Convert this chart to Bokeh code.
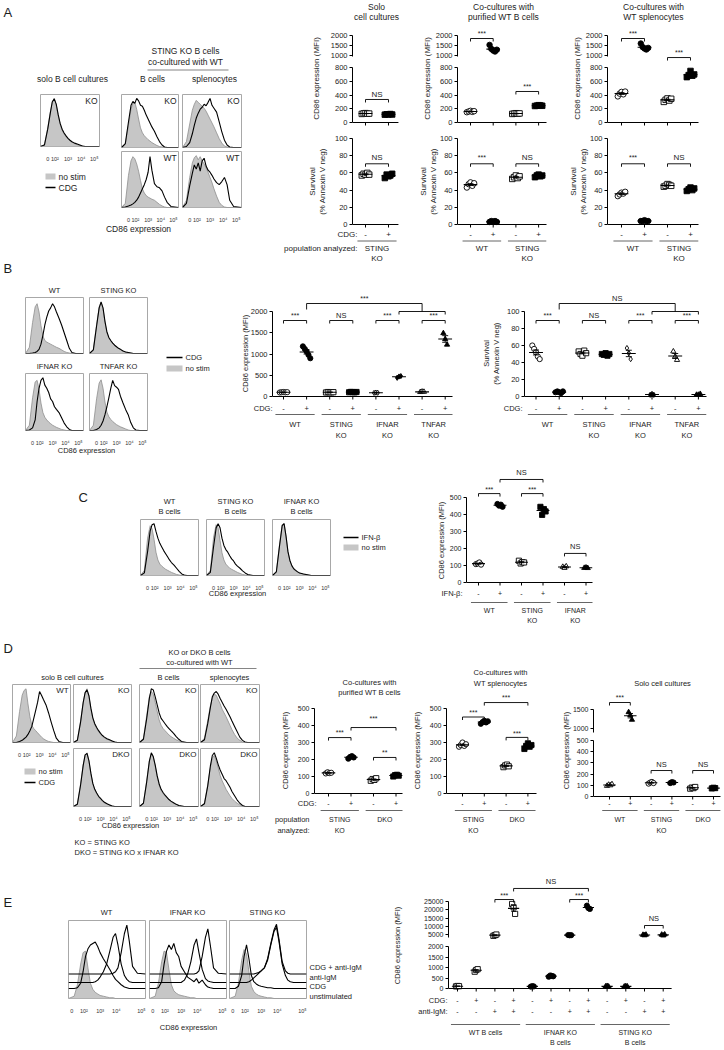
import numpy as np
from bokeh.plotting import figure
from bokeh.models import Column, Range1d, FixedTicker
from bokeh.embed import file_html
from bokeh.resources import INLINE
from bokeh.core.properties import value

# ======================================================================= DATA
# histogram bins (axis units: 10^2 -> 1, 10^3 -> 2, 10^4 -> 3, 10^5 -> 4)
XH = [-0.1, 0.2, 0.45, 0.65, 0.8, 0.95, 1.1, 1.25, 1.4, 1.55, 1.7, 1.85,
      2.0, 2.15, 2.3, 2.5, 2.7, 2.9, 3.1, 3.3, 3.5, 3.8, 4.4]
HIST_TICKS = [0.45, 1, 2, 3, 4]
HIST_TICK_LABELS = ["0", "10²", "10³", "10⁴", "10⁵"]

# panel A histograms
A_SOLO_NOSTIM = [0, 4, 38, 72, 92, 100, 86, 64, 46, 34, 26, 20, 16, 12, 9, 6, 4, 2, 1, 0, 0, 0, 0]
A_SOLO_CDG = [0, 3, 36, 70, 93, 99, 88, 66, 48, 36, 28, 22, 17, 13, 10, 7, 5, 3, 1, 0, 0, 0, 0]
A_COB_KO_NOSTIM = [0, 6, 45, 78, 90, 92, 78, 58, 40, 30, 24, 20, 16, 13, 10, 7, 4, 2, 1, 0, 0, 0, 0]
A_COB_KO_CDG = [0, 8, 52, 86, 94, 90, 100, 95, 86, 84, 76, 66, 58, 50, 42, 33, 22, 12, 5, 1, 0, 0, 0]
A_COSP_KO_NOSTIM = [0, 12, 48, 76, 88, 96, 92, 88, 84, 80, 74, 66, 58, 50, 42, 30, 18, 9, 3, 1, 0, 0, 0]
A_COSP_KO_CDG = [0, 2, 10, 28, 45, 60, 70, 78, 82, 88, 85, 92, 100, 86, 80, 72, 52, 32, 15, 5, 1, 0, 0]
A_COB_WT_NOSTIM = [0, 8, 62, 90, 98, 94, 84, 70, 52, 36, 28, 23, 20, 18, 16, 14, 10, 6, 3, 1, 0, 0, 0]
A_COB_WT_CDG = [0, 1, 3, 5, 7, 10, 14, 20, 28, 36, 44, 54, 68, 98, 72, 46, 40, 38, 32, 20, 10, 2, 0]
A_COSP_WT_NOSTIM = [0, 14, 58, 86, 96, 100, 92, 98, 90, 84, 76, 68, 58, 48, 36, 22, 10, 4, 1, 0, 0, 0, 0]
A_COSP_WT_CDG = [0, 8, 42, 66, 82, 74, 86, 70, 90, 95, 80, 72, 68, 62, 55, 48, 44, 50, 58, 44, 14, 2, 0]

# panel B histograms
B_WT_NOSTIM = [0, 12, 60, 90, 96, 80, 54, 34, 25, 22, 20, 18, 16, 14, 12, 10, 7, 4, 2, 1, 0, 0, 0]
B_WT_CDG = [0, 0, 1, 2, 4, 8, 18, 35, 55, 70, 82, 88, 96, 90, 80, 68, 55, 40, 25, 10, 2, 0, 0]
B_STING_NOSTIM = [0, 8, 56, 90, 100, 86, 60, 40, 30, 24, 20, 16, 13, 10, 8, 5, 3, 2, 1, 0, 0, 0, 0]
B_STING_CDG = [0, 7, 53, 88, 99, 88, 62, 42, 31, 25, 20, 16, 13, 10, 8, 5, 3, 2, 1, 0, 0, 0, 0]
B_IFNAR_NOSTIM = [0, 10, 62, 92, 95, 78, 52, 34, 25, 20, 16, 13, 10, 8, 6, 4, 2, 1, 0, 0, 0, 0, 0]
B_IFNAR_CDG = [0, 1, 5, 20, 55, 80, 95, 100, 86, 80, 72, 60, 55, 45, 40, 34, 24, 14, 7, 2, 0, 0, 0]
B_TNFAR_NOSTIM = [0, 10, 60, 90, 96, 80, 54, 35, 26, 21, 17, 14, 11, 9, 7, 5, 3, 1, 0, 0, 0, 0, 0]
B_TNFAR_CDG = [0, 0, 2, 5, 10, 18, 30, 45, 62, 80, 95, 85, 82, 78, 65, 52, 40, 30, 15, 5, 1, 0, 0]

# panel C histograms
C_WT_NOSTIM = [0, 10, 72, 96, 90, 70, 45, 30, 22, 18, 15, 12, 10, 8, 6, 4, 2, 1, 0, 0, 0, 0, 0]
C_WT_IFN = [0, 5, 46, 86, 98, 100, 85, 72, 62, 55, 48, 42, 36, 30, 25, 20, 14, 8, 3, 1, 0, 0, 0]
C_STING_NOSTIM = [0, 10, 74, 98, 92, 68, 44, 30, 22, 18, 14, 12, 10, 8, 6, 4, 2, 1, 0, 0, 0, 0, 0]
C_STING_IFN = [0, 6, 56, 92, 100, 92, 72, 58, 50, 45, 38, 32, 28, 22, 18, 14, 9, 5, 2, 1, 0, 0, 0]
C_IFNAR_NOSTIM = [0, 8, 60, 98, 100, 75, 45, 28, 18, 12, 9, 7, 5, 4, 3, 2, 1, 0, 0, 0, 0, 0, 0]
C_IFNAR_IFN = [0, 7, 58, 96, 100, 76, 46, 29, 19, 13, 10, 7, 5, 4, 3, 2, 1, 0, 0, 0, 0, 0, 0]

# panel D histograms
D_WT_NOSTIM = [0, 12, 58, 88, 97, 100, 72, 48, 32, 26, 22, 18, 14, 10, 7, 4, 2, 1, 0, 0, 0, 0, 0]
D_WT_CDG = [0, 0, 2, 4, 7, 10, 15, 22, 30, 45, 60, 75, 95, 88, 80, 70, 55, 38, 22, 8, 2, 0, 0]
D_KO_NOSTIM = [0, 5, 40, 75, 92, 100, 85, 62, 44, 33, 26, 20, 16, 12, 9, 6, 4, 2, 1, 0, 0, 0, 0]
D_KO_CDG = [0, 4, 38, 74, 93, 98, 87, 64, 46, 35, 28, 22, 17, 13, 10, 7, 5, 3, 1, 0, 0, 0, 0]
D_DKO_NOSTIM = [0, 5, 42, 78, 95, 100, 84, 60, 42, 31, 24, 18, 14, 10, 7, 5, 3, 1, 0, 0, 0, 0, 0]
D_DKO_CDG = [0, 4, 40, 76, 96, 99, 85, 62, 43, 32, 25, 19, 15, 11, 8, 5, 3, 1, 0, 0, 0, 0, 0]
D_COB_KO_NOSTIM = [0, 8, 50, 85, 95, 90, 75, 58, 42, 32, 26, 22, 18, 14, 11, 8, 5, 3, 1, 0, 0, 0, 0]
D_COB_KO_CDG = [0, 6, 45, 82, 100, 98, 85, 70, 55, 45, 40, 35, 30, 26, 22, 17, 11, 6, 2, 1, 0, 0, 0]
D_COSP_KO_NOSTIM = [0, 8, 40, 68, 82, 90, 88, 80, 72, 62, 55, 48, 40, 32, 24, 15, 8, 4, 1, 0, 0, 0, 0]
D_COSP_KO_CDG = [0, 5, 35, 65, 85, 92, 95, 90, 82, 75, 68, 62, 55, 48, 40, 30, 20, 10, 4, 1, 0, 0, 0]
D_COB_DKO_NOSTIM = [0, 7, 48, 85, 97, 92, 75, 55, 40, 30, 24, 20, 16, 12, 9, 6, 4, 2, 1, 0, 0, 0, 0]
D_COB_DKO_CDG = [0, 6, 46, 84, 100, 93, 77, 57, 42, 32, 26, 21, 17, 13, 10, 7, 4, 2, 1, 0, 0, 0, 0]
D_COSP_DKO_NOSTIM = [0, 6, 40, 72, 90, 95, 85, 72, 58, 48, 40, 32, 26, 20, 15, 10, 6, 3, 1, 0, 0, 0, 0]
D_COSP_DKO_CDG = [0, 5, 38, 75, 95, 100, 90, 78, 68, 60, 52, 48, 42, 36, 28, 20, 12, 6, 2, 0, 0, 0, 0]

# panel E histograms (offset overlays)
XE = [0.05, 0.4, 0.6, 0.8, 0.95, 1.1, 1.25, 1.4, 1.55, 1.7, 1.85, 2.0, 2.2,
      2.4, 2.6, 2.8, 2.95, 3.1, 3.3, 3.5, 3.65, 3.8, 4.0, 4.3, 4.8]
E_HIST_TICKS = [0.25, 1, 2, 3, 4.55]
HE_WT_UNSTIM = [0, 3, 18, 45, 60, 62, 40, 20, 12, 8, 6, 4, 3, 2, 1, 1, 0, 0, 0, 0, 0, 0, 0, 0, 0]
HE_WT_CDG = [13, 13, 14, 20, 35, 55, 65, 70, 72, 74, 68, 60, 52, 45, 38, 30, 25, 22, 18, 15, 14, 13, 13, 13, 13]
HE_WT_IGM = [21, 21, 21, 21, 21, 21, 21, 21, 21, 22, 24, 28, 35, 45, 62, 80, 85, 70, 45, 30, 25, 22, 21, 21, 21]
HE_WT_BOTH = [32, 32, 32, 32, 32, 32, 32, 32, 32, 32, 32, 32, 32, 32, 32, 33, 35, 40, 60, 85, 96, 75, 42, 33, 32]
HE_IFNAR_UNSTIM = [0, 3, 20, 48, 62, 60, 38, 18, 10, 7, 5, 4, 3, 2, 1, 1, 0, 0, 0, 0, 0, 0, 0, 0, 0]
HE_IFNAR_CDG = [13, 13, 14, 22, 45, 62, 70, 64, 72, 60, 55, 42, 35, 28, 25, 22, 26, 20, 24, 18, 15, 14, 13, 13, 13]
HE_IFNAR_IGM = [21, 21, 21, 21, 21, 21, 21, 21, 21, 21, 21, 21, 24, 32, 48, 70, 78, 60, 38, 26, 23, 22, 21, 21, 21]
HE_IFNAR_BOTH = [32, 32, 32, 32, 32, 32, 32, 32, 32, 32, 32, 32, 32, 32, 32, 32, 33, 36, 55, 80, 91, 70, 40, 33, 32]
HE_STING_UNSTIM = [0, 3, 20, 50, 64, 58, 35, 16, 9, 6, 4, 3, 2, 1, 1, 0, 0, 0, 0, 0, 0, 0, 0, 0, 0]
HE_STING_CDG = [13, 13, 16, 30, 55, 70, 52, 30, 22, 19, 17, 16, 15, 14, 14, 13, 13, 13, 13, 13, 13, 13, 13, 13, 13]
HE_STING_IGM = [21, 21, 21, 21, 21, 21, 22, 24, 27, 30, 33, 36, 40, 50, 70, 88, 93, 75, 45, 30, 24, 22, 21, 21, 21]
HE_STING_BOTH = [32, 32, 32, 32, 32, 32, 32, 32, 32, 33, 34, 36, 40, 52, 72, 90, 97, 78, 48, 36, 33, 32, 32, 32, 32]

# panel A dot plots
A1_CD86_KO_NEG = [125, 132, 136, 128, 130]
A1_CD86_KO_POS = [114, 120, 118, 123, 116]
A1_SURV_KO_NEG = [57, 59, 58, 60, 58]
A1_SURV_KO_POS = [54, 58, 56, 57, 59]
A2_CD86_WT_NEG = [150, 160, 170, 155, 165]
A2_CD86_WT_POS = [1530, 1330, 1250, 1200, 1290]
A2_CD86_KO_NEG = [125, 130, 135, 128, 132]
A2_CD86_KO_POS = [240, 245, 252, 248, 243]
A2_SURV_WT_NEG = [43, 47, 49, 45, 48]
A2_SURV_WT_POS = [3, 4, 3, 4, 3]
A2_SURV_KO_NEG = [53, 55, 57, 54, 56]
A2_SURV_KO_POS = [55, 57, 58, 56, 57]
A3_CD86_WT_NEG = [380, 420, 445, 410, 450]
A3_CD86_WT_POS = [1600, 1420, 1350, 1300, 1380]
A3_CD86_KO_NEG = [300, 330, 350, 320, 345]
A3_CD86_KO_POS = [660, 690, 750, 680, 700]
A3_SURV_WT_NEG = [33, 35, 37, 36, 38]
A3_SURV_WT_POS = [4, 4, 5, 4, 4]
A3_SURV_KO_NEG = [44, 45, 47, 46, 45]
A3_SURV_KO_POS = [39, 41, 43, 40, 42]

# panel B dot plots
B1_WT_NEG = [95, 100, 105, 98, 102]
B1_WT_POS = [1180, 1120, 1060, 980, 900]
B1_STING_NEG = [95, 105, 100, 98, 102]
B1_STING_POS = [100, 108, 104, 98, 106]
B1_IFNAR_NEG = [85, 92, 88]
B1_IFNAR_POS = [440, 470, 480]
B1_TNFAR_NEG = [105, 115, 110]
B1_TNFAR_POS = [1490, 1350, 1220]
B2_WT_NEG = [60, 56, 52, 47, 44]
B2_WT_POS = [5, 6, 5, 4, 6]
B2_STING_NEG = [53, 50, 48, 54, 51]
B2_STING_POS = [50, 49, 51, 48, 50]
B2_IFNAR_NEG = [57, 51, 44]
B2_IFNAR_POS = [2, 3, 2]
B2_TNFAR_NEG = [53, 47, 43]
B2_TNFAR_POS = [2, 2, 3]

# panel C dot plot
C_WT_NEG = [108, 112, 118, 105]
C_WT_POS = [462, 452, 458, 445]
C_STING_NEG = [128, 112, 120, 118]
C_STING_POS = [445, 398, 432, 418]
C_IFNAR_NEG = [92, 86, 95]
C_IFNAR_POS = [86, 88, 85]

# panel D dot plots
D1_STING_NEG = [118, 125, 120, 122]
D1_STING_POS = [205, 215, 220, 212]
D1_DKO_NEG = [75, 85, 80, 90]
D1_DKO_POS = [100, 108, 110, 105]
D2_STING_NEG = [275, 285, 300, 280, 290]
D2_STING_POS = [410, 420, 428, 418, 425]
D2_DKO_NEG = [155, 165, 170, 160]
D2_DKO_POS = [262, 280, 295, 275, 285]
D3_WT_NEG = [95, 105, 100, 110]
D3_WT_POS = [1430, 1350, 1230]
D3_STING_NEG = [115, 125, 130, 120]
D3_STING_POS = [120, 128, 125]
D3_DKO_NEG = [70, 80, 75, 85]
D3_DKO_POS = [72, 78, 75]

# panel E dot plot (unstim, CDG, anti-IgM, CDG + anti-IgM)
E_WT_UNST = [100, 120, 110]
E_WT_CDG = [800, 880, 920]
E_WT_IGM = [4200, 4600, 5000]
E_WT_BOTH = [23500, 21500, 17500]
E_IFNAR_UNST = [90, 110, 100]
E_IFNAR_CDG = [560, 620, 600, 580]
E_IFNAR_IGM = [4700, 4500, 4600]
E_IFNAR_BOTH = [22500, 21000, 20500]
E_STING_UNST = [100, 120, 90]
E_STING_CDG = [90, 110, 100]
E_STING_IGM = [4800, 4500, 4900]
E_STING_BOTH = [4900, 4400, 5000]

SIGNS4 = ["-", "+", "-", "+"]
SIGNS6 = ["-", "+", "-", "+", "-", "+"]
SIGNS8 = ["-", "+", "-", "+", "-", "+", "-", "+"]
E_CDG_SIGNS = ["-", "+", "-", "+"] * 3
E_IGM_SIGNS = ["-", "-", "+", "+"] * 3

# ===================================================================== STYLE
FONT = "Liberation Sans"
INK = "#1c1c1c"
GRAYFILL = "#c6c6c6"
GRAYLINE = "#8e8e8e"
BOXLINE = "#a8a8a8"
LB, RB, TB, BB = 40, 2, 2, 2          # uniform borders for every figure
children = []


def place(p, left, top):
    # positions are page pixels (absolute, relative to the window)
    p.styles = {"position": "absolute", "left": f"{left}px", "top": f"{top}px"}
    children.append(p)


def base_fig(**kw):
    p = figure(output_backend="svg", toolbar_location=None,
               min_border_left=LB, min_border_right=RB, min_border_top=TB, min_border_bottom=BB, **kw)
    try:
        p.frame_align = False
    except Exception:
        pass
    p.grid.visible = False
    p.outline_line_color = None
    p.background_fill_alpha = 0
    p.border_fill_alpha = 0
    return p


# ------------------------------------------------ page-level texts (collected)
BG_ITEMS = []
ROT = np.pi / 2


def T(x, y, s, size=8.0, align="center", angle=0.0):
    if angle:
        w = size * 1.3
        xe = (x - w / 2, x + w / 2)
        hl = len(s) * size * 0.3
        ye = (y - hl, y + hl)
    else:
        w = len(s) * size * 0.56
        xe = {"left": (x, x + w), "center": (x - w / 2, x + w / 2), "right": (x - w, x)}[align]
        ye = (y - size * 0.6, y + size * 0.6)
    BG_ITEMS.append(("text", xe, ye, dict(x=x, y=y, s=s, size=size, align=align, angle=angle)))


def L(x0, y0, x1, y1, color=INK, width=1.0):
    BG_ITEMS.append(("seg", (min(x0, x1), max(x0, x1)), (min(y0, y1) - 1, max(y0, y1) + 1),
                     dict(x0=x0, y0=y0, x1=x1, y1=y1, color=color, width=width)))


def R(x0, y0, x1, y1, color=GRAYFILL):
    BG_ITEMS.append(("quad", (x0, x1), (y0, y1), dict(x0=x0, y0=y0, x1=x1, y1=y1, color=color)))


def build_background():
    bands = [(0, 266), (254, 462), (444, 636), (624, 872), (858, 1046)]
    cols = [(0, 380), (200, 560), (360, 720)]
    tiles = [[(x0, x1, y0, y1), []] for (y0, y1) in bands for (x0, x1) in cols]
    for kind, xe, ye, d in BG_ITEMS:
        chosen = None
        for t in tiles:
            x0, x1, y0, y1 = t[0]
            if xe[0] >= x0 and xe[1] <= x1 and ye[0] >= y0 and ye[1] <= y1:
                chosen = t
                break
        if chosen is None:
            def overlap(t):
                x0, x1, y0, y1 = t[0]
                return (max(0, min(x1, xe[1]) - max(x0, xe[0])) *
                        max(0, min(y1, ye[1]) - max(y0, ye[0])))
            chosen = max(tiles, key=overlap)
        chosen[1].append((kind, d))
    out = []
    for (x0, x1, y0, y1), items in tiles:
        if not items:
            continue
        p = base_fig(frame_width=x1 - x0, frame_height=y1 - y0, x_range=Range1d(x0, x1),
                     y_range=Range1d(-y1, -y0), x_axis_location=None, y_axis_location=None)
        for kind, d in items:
            if kind == "text":
                p.text(x=[d["x"]], y=[-d["y"]], text=[d["s"]], text_font=value(FONT),
                       text_font_size=f"{d['size']}px", text_align=d["align"],
                       text_baseline="middle", angle=d["angle"], text_color=INK)
            elif kind == "seg":
                p.segment(x0=[d["x0"]], y0=[-d["y0"]], x1=[d["x1"]], y1=[-d["y1"]],
                          line_color=d["color"], line_width=d["width"])
            else:
                p.quad(left=[d["x0"]], right=[d["x1"]], top=[-d["y0"]], bottom=[-d["y1"]],
                       fill_color=d["color"], line_color=None)
        p.styles = {"position": "absolute", "left": f"{x0 - LB}px", "top": f"{y0 - TB}px"}
        out.append(p)
    return out


# --------------------------------------------------------------- histogram
def hist(left, top, w, h, gray, blacks, label=None, ticks=False, xs=XH, xr=(-0.1, 4.4),
         tpos=HIST_TICKS, ymax=108.0, lsize=8.5):
    kw = dict(frame_width=w, frame_height=h, x_range=Range1d(*xr), y_range=Range1d(0, ymax),
              y_axis_location=None)
    if not ticks:
        kw["x_axis_location"] = None
    p = base_fig(**kw)
    p.outline_line_color = BOXLINE
    p.outline_line_width = 1
    p.varea(x=xs, y1=0, y2=gray, fill_color=GRAYFILL)
    p.line(xs, gray, line_color=GRAYLINE, line_width=0.8)
    for b in blacks:
        p.line(xs, b, line_color="black", line_width=1.1)
    if label:
        p.text(x=[xr[1] - 0.15], y=[ymax * 0.97], text=[label], text_align="right",
               text_baseline="top", text_font=value(FONT), text_font_size=f"{lsize}px",
               text_color=INK)
    if ticks:
        ax = p.xaxis[0]
        ax.ticker = FixedTicker(ticks=tpos)
        ax.major_label_overrides = {t: l for t, l in zip(tpos, HIST_TICK_LABELS)}
        ax.axis_line_color = None
        ax.major_tick_line_color = None
        ax.minor_tick_line_color = None
        ax.major_label_text_font = FONT
        ax.major_label_text_font_size = "5.5px"
        ax.major_label_text_color = "#333333"
        ax.major_label_standoff = 3
    place(p, left - LB, top - TB)
    return p


# ----------------------------------------------------------------- dot plots
def scat(ax_x, right, top, bottom, v_a, py_a, v_b, py_b, c1, d, yticks, ybounds, tick_size="7.5px"):
    s = (py_a - py_b) / float(v_b - v_a)

    def val(py):
        return v_a + (py_a - py) / s

    def xv(px):
        return 1 + (px - c1) / float(d)

    p = base_fig(frame_width=int(round(right - ax_x)), frame_height=int(round(bottom - top)),
                 x_range=Range1d(xv(ax_x), xv(right)), y_range=Range1d(val(bottom), val(top)),
                 x_axis_location=None)
    ya = p.yaxis[0]
    ya.ticker = FixedTicker(ticks=yticks)
    ya.bounds = ybounds
    ya.major_tick_out = 3
    ya.major_tick_in = 0
    ya.minor_tick_line_color = None
    ya.axis_line_color = "black"
    ya.major_tick_line_color = "black"
    ya.major_label_text_font = FONT
    ya.major_label_text_font_size = tick_size
    ya.major_label_text_color = INK
    ya.major_label_standoff = 2
    place(p, ax_x - LB, top - TB)
    return p, s, val


def series(p, xi, vals, marker, filled, size=5.5):
    lo, hi = p.y_range.start, p.y_range.end
    n = len(vals)
    xs = [xi + (k - (n - 1) / 2.0) * 0.08 for k in range(n)]
    pts = [(x, y) for x, y in zip(xs, vals) if lo <= y <= hi]
    if pts:
        p.scatter(x=[q[0] for q in pts], y=[q[1] for q in pts], marker=marker, size=size,
                  fill_color="black" if filled else "white", line_color="black", line_width=0.9)
    m = float(np.mean(vals))
    se = float(np.std(vals, ddof=1) / np.sqrt(n))
    if lo <= m <= hi:
        p.segment(x0=[xi - 0.3], y0=[m], x1=[xi + 0.3], y1=[m], line_color="black", line_width=1.1)
        p.segment(x0=[xi, xi - 0.13, xi - 0.13], y0=[m - se, m - se, m + se],
                  x1=[xi, xi + 0.13, xi + 0.13], y1=[m + se, m - se, m + se],
                  line_color="black", line_width=0.9)


def ptext(p, xs, ys, texts, size="7.5px"):
    p.text(x=xs, y=ys, text=texts, text_align="center", text_baseline="middle",
           text_font=value(FONT), text_font_size=size, text_color=INK)


def bracket(p, s, x0, x1, yv, label, lyv, size="7px", tick_px=3.0):
    t = tick_px / s
    p.multi_line(xs=[[x0, x0, x1, x1]], ys=[[yv - t, yv, yv, yv - t]],
                 line_color="black", line_width=0.9)
    if label:
        ptext(p, [(x0 + x1) / 2.0], [lyv], [label], size)


def under(p, s, val, n, rows, groups, ul_py=None, g_py=(), size="7.5px"):
    p.segment(x0=[p.x_range.start], y0=[0], x1=[n + 0.45], y1=[0], line_color="black", line_width=1)
    idx = list(range(1, n + 1))
    p.segment(x0=idx, y0=[0] * n, x1=idx, y1=[-3.0 / s] * n, line_color="black", line_width=1)
    for py, signs in rows:
        ptext(p, idx, [val(py)] * n, signs, size)
    for a, b, lines in groups:
        p.segment(x0=[a - 0.35], y0=[val(ul_py)], x1=[b + 0.35], y1=[val(ul_py)],
                  line_color="#555555", line_width=0.9)
        for k, ln in enumerate(lines):
            ptext(p, [(a + b) / 2.0], [val(g_py[k])], [ln], size)


# ============================================================= PANEL A
T(3, 12, "A", 13, "left")
T(185, 50.5, "STING KO B cells", 8.5)
T(185, 61.5, "co-cultured with WT", 8.5)
L(147, 69.5, 228, 69.5, "#777777", 0.9)
T(72, 78, "solo B cell cultures", 8.5)
T(152, 78, "B cells", 8.5)
T(214, 78, "splenocytes", 8.5)
R(45, 173, 55, 179)
T(58, 176, "no stim", 8.5, "left")
L(45, 187, 55, 187, "black", 1.6)
T(58, 187, "CDG", 8.5, "left")
T(138, 228, "CD86 expression", 8.5)

hist(40, 94, 59, 52, A_SOLO_NOSTIM, [A_SOLO_CDG], "KO", ticks=True)
hist(121, 94, 57, 53, A_COB_KO_NOSTIM, [A_COB_KO_CDG], "KO")
hist(182, 94, 59, 53, A_COSP_KO_NOSTIM, [A_COSP_KO_CDG], "KO")
hist(121, 151, 57, 56, A_COB_WT_NOSTIM, [A_COB_WT_CDG], "WT", ticks=True)
hist(182, 151, 59, 56, A_COSP_WT_NOSTIM, [A_COSP_WT_CDG], "WT", ticks=True)

for tx, l1, l2 in [(376, "Solo", "cell cultures"), (503, "Co-cultures with", "purified WT B cells"),
                   (653, "Co-cultures with", "WT splenocytes")]:
    T(tx, 6.5, l1, 8.5)
    T(tx, 16.5, l2, 8.5)
for lx in (316, 427, 577):
    T(lx, 78, "CD86 expression (MFI)", 8, "center", ROT)
    T(lx - 4, 181, "Survival", 8, "center", ROT)
    T(lx + 6, 181, "(% Annexin V neg)", 8, "center", ROT)
T(357, 234, "CDG:", 8, "right")
T(357, 248, "population analyzed:", 8, "right")

A_COLS = [
    (352, 398, 365, 23.0,
     [(1, A1_CD86_KO_NEG, "square", False), (2, A1_CD86_KO_POS, "square", True)],
     [(1, A1_SURV_KO_NEG, "square", False), (2, A1_SURV_KO_POS, "square", True)],
     [], [(1, 2, 335, "NS", 407)], [(1, 2, 70.6, "NS", 77.6)], [(1, 2, ["STING", "KO"])]),
    (457, 546, 470, 22.7,
     [(1, A2_CD86_WT_NEG, "circle", False), (2, A2_CD86_WT_POS, "circle", True),
      (3, A2_CD86_KO_NEG, "square", False), (4, A2_CD86_KO_POS, "square", True)],
     [(1, A2_SURV_WT_NEG, "circle", False), (2, A2_SURV_WT_POS, "circle", True),
      (3, A2_SURV_KO_NEG, "square", False), (4, A2_SURV_KO_POS, "square", True)],
     [(1, 2, 1850, "***", 2100)], [(3, 4, 451, "***", 524)],
     [(1, 2, 70.6, "***", 77.6), (3, 4, 70.6, "NS", 77.6)],
     [(1, 2, ["WT"]), (3, 4, ["STING", "KO"])]),
    (607, 698, 621, 23.0,
     [(1, A3_CD86_WT_NEG, "circle", False), (2, A3_CD86_WT_POS, "circle", True),
      (3, A3_CD86_KO_NEG, "square", False), (4, A3_CD86_KO_POS, "square", True)],
     [(1, A3_SURV_WT_NEG, "circle", False), (2, A3_SURV_WT_POS, "circle", True),
      (3, A3_SURV_KO_NEG, "square", False), (4, A3_SURV_KO_POS, "square", True)],
     [(1, 2, 1850, "***", 2100)], [(3, 4, 945, "***", 1018)],
     [(1, 2, 70.6, "***", 77.6), (3, 4, 70.6, "NS", 77.6)],
     [(1, 2, ["WT"]), (3, 4, ["STING", "KO"])]),
]
for ax_x, right, c1, d, cd86, surv, br_up, br_lo, br_sv, groups in A_COLS:
    n = len(cd86)
    pu, su, vu = scat(ax_x, right, 26, 58, 2000, 35, 1000, 55, c1, d, [1000, 1500, 2000], (950, 2000))
    pl, sl, vl = scat(ax_x, right, 46, 128, 800, 67, 0, 122, c1, d, [0, 200, 400, 600, 800], (0, 800))
    for pp in (pu, pl):
        for xi, vals, mk, fl in cd86:
            series(pp, xi, vals, mk, fl)
    under(pl, sl, vl, n, [], [])
    for a, b, yv, lab, ly in br_up:
        bracket(pu, su, a, b, yv, lab, ly)
    for a, b, yv, lab, ly in br_lo:
        bracket(pl, sl, a, b, yv, lab, ly, "8px" if lab == "NS" else "7px")
    ps, ss, vs = scat(ax_x, right, 132, 262, 100, 138, 0, 224, c1, d, [0, 20, 40, 60, 80, 100], (0, 100))
    for xi, vals, mk, fl in surv:
        series(ps, xi, vals, mk, fl)
    under(ps, ss, vs, n, [(234, SIGNS4[:n])], groups, 240.5, (248, 258), "8px")
    for a, b, yv, lab, ly in br_sv:
        bracket(ps, ss, a, b, yv, lab, ly, "8px" if lab == "NS" else "7px")

# ============================================================= PANEL B
T(3, 268, "B", 13, "left")
T(54, 290, "WT", 7.5)
T(118, 290, "STING KO", 7.5)
T(54, 366, "IFNAR KO", 7.5)
T(118, 366, "TNFAR KO", 7.5)
L(166, 357, 182, 357, "black", 1.6)
T(185, 357, "CDG", 7.5, "left")
R(166, 365, 182, 371)
T(185, 368, "no stim", 7.5, "left")
T(86, 450, "CD86 expression", 7.5)

hist(25, 297, 58, 56, B_WT_NOSTIM, [B_WT_CDG])
hist(89, 297, 58, 56, B_STING_NOSTIM, [B_STING_CDG])
hist(25, 373, 58, 57, B_IFNAR_NOSTIM, [B_IFNAR_CDG], ticks=True)
hist(89, 373, 58, 57, B_TNFAR_NOSTIM, [B_TNFAR_CDG], ticks=True)

T(245, 353, "CD86 expression (MFI)", 7.5, "center", ROT)
T(272, 408, "CDG:", 7.5, "right")
T(486, 353, "Survival", 7.5, "center", ROT)
T(496, 353, "(% Annexin V neg)", 7.5, "center", ROT)
T(522, 408, "CDG:", 7.5, "right")

B_GROUPS = [(1, 2, ["WT"]), (3, 4, ["STING", "KO"]), (5, 6, ["IFNAR", "KO"]), (7, 8, ["TNFAR", "KO"])]
B_PANELS = [
    (272, 452, 283, 23.1, 2000, [0, 500, 1000, 1500, 2000],
     [(1, B1_WT_NEG, "circle", False), (2, B1_WT_POS, "circle", True),
      (3, B1_STING_NEG, "square", False), (4, B1_STING_POS, "square", True),
      (5, B1_IFNAR_NEG, "diamond", False), (6, B1_IFNAR_POS, "diamond", True),
      (7, B1_TNFAR_NEG, "triangle", False), (8, B1_TNFAR_POS, "triangle", True)],
     ["***", "NS", "***", "***"], "***"),
    (524, 706, 535.5, 23.2, 100, [0, 20, 40, 60, 80, 100],
     [(1, B2_WT_NEG, "circle", False), (2, B2_WT_POS, "circle", True),
      (3, B2_STING_NEG, "square", False), (4, B2_STING_POS, "square", True),
      (5, B2_IFNAR_NEG, "diamond", False), (6, B2_IFNAR_POS, "diamond", True),
      (7, B2_TNFAR_NEG, "triangle", False), (8, B2_TNFAR_POS, "triangle", True)],
     ["***", "NS", "***", "***"], "NS"),
]
for ax_x, right, c1, d, vmax, ticks, ser, pair_labels, top_label in B_PANELS:
    p, s, v = scat(ax_x, right, 290, 440, vmax, 311, 0, 396, c1, d, ticks, (0, vmax))
    for xi, vals, mk, fl in ser:
        series(p, xi, vals, mk, fl, 5.2)
    under(p, s, v, 8, [(408, SIGNS8)], B_GROUPS, 414, (424, 435))
    for k, lab in enumerate(pair_labels):
        bracket(p, s, 2 * k + 1, 2 * k + 2, v(320), lab, v(315),
                "7.5px" if lab == "NS" else "7px")
    bracket(p, s, 6, 8, v(311), None, None)
    p.multi_line(xs=[[2, 2, 7, 7]], ys=[[v(309), v(303), v(303), v(311)]],
                 line_color="black", line_width=0.9)
    ptext(p, [4.5], [v(297.5)], [top_label], "7.5px" if top_label == "NS" else "7px")

# ============================================================= PANEL C
T(78, 497, "C", 13, "left")
for cx, name in [(169, "WT"), (235, "STING KO"), (301, "IFNAR KO")]:
    T(cx, 501, name, 7.5)
    T(cx, 511, "B cells", 7.5)
L(343, 537, 358, 537, "black", 1.6)
T(361, 537, "IFN-β", 7.5, "left")
R(343, 544, 358, 550)
T(361, 547, "no stim", 7.5, "left")
T(237, 593, "CD86 expression", 7.5)

hist(140, 519, 58, 56, C_WT_NOSTIM, [C_WT_IFN], ticks=True)
hist(206, 519, 58, 56, C_STING_NOSTIM, [C_STING_IFN], ticks=True)
hist(272, 519, 58, 56, C_IFNAR_NOSTIM, [C_IFNAR_IFN], ticks=True)

T(441, 540, "CD86 expression (MFI)", 7.5, "center", ROT)
T(462, 593, "IFN-β:", 7.5, "right")
pc, sc, vc = scat(466, 592, 465, 625, 500, 497, 0, 582, 478, 21.5, [0, 100, 200, 300, 400, 500],
                  (0, 500), "7px")
for xi, vals, mk, fl in [(1, C_WT_NEG, "circle", False), (2, C_WT_POS, "circle", True),
                         (3, C_STING_NEG, "square", False), (4, C_STING_POS, "square", True),
                         (5, C_IFNAR_NEG, "triangle", False), (6, C_IFNAR_POS, "triangle", True)]:
    series(pc, xi, vals, mk, fl, 5.2)
under(pc, sc, vc, 6, [(593, SIGNS6)],
      [(1, 2, ["WT"]), (3, 4, ["STING", "KO"]), (5, 6, ["IFNAR", "KO"])], 602, (610, 620), "7px")
bracket(pc, sc, 1, 2, 523, "***", 547)
bracket(pc, sc, 3, 4, 523, "***", 547)
bracket(pc, sc, 5, 6, 171, "NS", 212, "7.5px")
bracket(pc, sc, 2, 4, 606, "NS", 647, "7.5px")

# ============================================================= PANEL D
T(3, 648, "D", 13, "left")
T(199, 652, "KO or DKO B cells", 7.5)
T(199, 662, "co-cultured with WT", 7.5)
L(139, 668, 256, 668, "#777777", 0.9)
T(72, 677, "solo B cell cultures", 7.5)
T(168, 677, "B cells", 7.5)
T(229, 677, "splenocytes", 7.5)
R(24, 768, 35, 774)
T(38, 771, "no stim", 7.5, "left")
L(24, 782, 35, 782, "black", 1.6)
T(38, 782, "CDG", 7.5, "left")
T(130, 825, "CD86 expression", 7.5)
T(74, 842, "KO = STING KO", 7.5, "left")
T(74, 852, "DKO = STING KO x IFNAR KO", 7.5, "left")

hist(12, 684, 58, 58, D_WT_NOSTIM, [D_WT_CDG], "WT", ticks=True, lsize=8)
hist(73, 684, 58, 58, D_KO_NOSTIM, [D_KO_CDG], "KO", lsize=8)
hist(73, 748, 58, 58, D_DKO_NOSTIM, [D_DKO_CDG], "DKO", ticks=True, lsize=8)
hist(139, 684, 59, 58, D_COB_KO_NOSTIM, [D_COB_KO_CDG], "KO", lsize=8)
hist(200, 684, 59, 58, D_COSP_KO_NOSTIM, [D_COSP_KO_CDG], "KO", lsize=8)
hist(139, 748, 59, 58, D_COB_DKO_NOSTIM, [D_COB_DKO_CDG], "DKO", ticks=True, lsize=8)
hist(200, 748, 59, 58, D_COSP_DKO_NOSTIM, [D_COSP_DKO_CDG], "DKO", ticks=True, lsize=8)

T(369, 682, "Co-cultures with", 7.5)
T(369, 692, "purified WT B cells", 7.5)
T(500, 672, "Co-cultures with", 7.5)
T(500, 683, "WT splenocytes", 7.5)
T(662, 683, "Solo cell cultures", 7.5)
T(285, 750, "CD86 expression (MFI)", 7.5, "center", ROT)
T(417, 750, "CD86 expression (MFI)", 7.5, "center", ROT)
T(566, 750, "CD86 expression (MFI)", 7.5, "center", ROT)
T(316, 803, "CDG:", 7.5, "right")
T(309, 819, "population", 7.5, "right")
T(309, 830, "analyzed:", 7.5, "right")

D_TICKS = [0, 100, 200, 300, 400, 500]
D_PANELS = [
    (314, 402, 695, 328, 22.5,
     [(1, D1_STING_NEG, "circle", False), (2, D1_STING_POS, "circle", True),
      (3, D1_DKO_NEG, "square", False), (4, D1_DKO_POS, "square", True)],
     [(1, 2, 329, "***", 359), (3, 4, 212, "**", 241), (2, 4, 388, "***", 441)]),
    (446, 536, 690, 462, 21.8,
     [(1, D2_STING_NEG, "circle", False), (2, D2_STING_POS, "circle", True),
      (3, D2_DKO_NEG, "square", False), (4, D2_DKO_POS, "square", True)],
     [(1, 2, 450, "***", 478), (3, 4, 330, "***", 355), (2, 4, 535, "***", 565)]),
]
for ax_x, right, top, c1, d, ser, brs in D_PANELS:
    p, s, v = scat(ax_x, right, top, 836, 500, 708, 0, 793, c1, d, D_TICKS, (0, 500), "7px")
    for xi, vals, mk, fl in ser:
        series(p, xi, vals, mk, fl, 5.2)
    under(p, s, v, 4, [(803, SIGNS4)], [(1, 2, ["STING", "KO"]), (3, 4, ["DKO"])],
          810, (819, 830), "7px")
    for a, b, yv, lab, ly in brs:
        bracket(p, s, a, b, yv, lab, ly)

pdu, sdu, vdu = scat(593, 720, 690, 734, 1500, 709, 1000, 728, 609, 20.8, [1000, 1500], (900, 1500), "7px")
pdl, sdl, vdl = scat(593, 720, 732, 836, 500, 740, 0, 796, 609, 20.8, D_TICKS, (0, 500), "7px")
for pp in (pdu, pdl):
    for xi, vals, mk, fl in [(1, D3_WT_NEG, "triangle", False), (2, D3_WT_POS, "triangle", True),
                             (3, D3_STING_NEG, "circle", False), (4, D3_STING_POS, "circle", True),
                             (5, D3_DKO_NEG, "square", False), (6, D3_DKO_POS, "square", True)]:
        series(pp, xi, vals, mk, fl, 5.2)
under(pdl, sdl, vdl, 6, [(803, SIGNS6)],
      [(1, 2, ["WT"]), (3, 4, ["STING", "KO"]), (5, 6, ["DKO"])], 810, (819, 830), "7px")
bracket(pdu, sdu, 1, 2, 1684, "***", 1815)
bracket(pdl, sdl, 3, 4, 232, "NS", 286, "7.5px")
bracket(pdl, sdl, 5, 6, 232, "NS", 286, "7.5px")

# ============================================================= PANEL E
T(3, 902, "E", 13, "left")
T(106, 912, "WT", 7.5)
T(187, 912, "IFNAR KO", 7.5)
T(267, 912, "STING KO", 7.5)
T(309, 967, "CDG + anti-IgM", 7.5, "left")
T(309, 977, "anti-IgM", 7.5, "left")
T(309, 986, "CDG", 7.5, "left")
T(309, 996, "unstimulated", 7.5, "left")
T(188, 1027, "CD86 expression", 7.5)

hist(68, 920, 77, 78, HE_WT_UNSTIM, [HE_WT_CDG, HE_WT_IGM, HE_WT_BOTH], ticks=True,
     xs=XE, xr=(0.05, 4.8), tpos=E_HIST_TICKS, ymax=102)
hist(149, 920, 77, 78, HE_IFNAR_UNSTIM, [HE_IFNAR_CDG, HE_IFNAR_IGM, HE_IFNAR_BOTH], ticks=True,
     xs=XE, xr=(0.05, 4.8), tpos=E_HIST_TICKS, ymax=102)
hist(229, 920, 77, 78, HE_STING_UNSTIM, [HE_STING_CDG, HE_STING_IGM, HE_STING_BOTH], ticks=True,
     xs=XE, xr=(0.05, 4.8), tpos=E_HIST_TICKS, ymax=102)

T(397, 945, "CD86 expression (MFI)", 7.5, "center", ROT)
T(447, 1000, "CDG:", 7.5, "right")
T(447, 1011, "anti-IgM:", 7.5, "right")

peu, seu, veu = scat(448, 672, 872, 940, 25000, 901, 5000, 934, 457, 18.7,
                     [5000, 10000, 15000, 20000, 25000], (3000, 25000), "7px")
pel, sel, vel = scat(448, 672, 938, 1046, 2000, 946, 0, 988, 457, 18.7,
                     [0, 500, 1000, 1500, 2000], (0, 2000), "7px")
E_SERIES = [(1, E_WT_UNST, "square", False), (2, E_WT_CDG, "square", False),
            (3, E_WT_IGM, "square", False), (4, E_WT_BOTH, "square", False),
            (5, E_IFNAR_UNST, "circle", True), (6, E_IFNAR_CDG, "circle", True),
            (7, E_IFNAR_IGM, "circle", True), (8, E_IFNAR_BOTH, "circle", True),
            (9, E_STING_UNST, "triangle", True), (10, E_STING_CDG, "triangle", True),
            (11, E_STING_IGM, "triangle", True), (12, E_STING_BOTH, "triangle", True)]
for pp in (peu, pel):
    for xi, vals, mk, fl in E_SERIES:
        series(pp, xi, vals, mk, fl, 5.2)
under(pel, sel, vel, 12, [(1000, E_CDG_SIGNS), (1011, E_IGM_SIGNS)],
      [(1, 4, ["WT B cells"]), (5, 8, ["IFNAR KO", "B cells"]), (9, 12, ["STING KO", "B cells"])],
      1024, (1032, 1042), "7px")
bracket(peu, seu, 3, 4, 26200, "***", 28600)
bracket(peu, seu, 7, 8, 26200, "***", 28600)
bracket(peu, seu, 4, 8, 32900, "NS", 37100, "7.5px")
bracket(peu, seu, 11, 12, 10450, "NS", 14700, "7.5px")

# ================================================================= OUTPUT
children = build_background() + children
root = Column(children=children, width=708, height=1034, sizing_mode="fixed")
open("out.html", "w").write(file_html(root, INLINE, title="CD86 expression"))
